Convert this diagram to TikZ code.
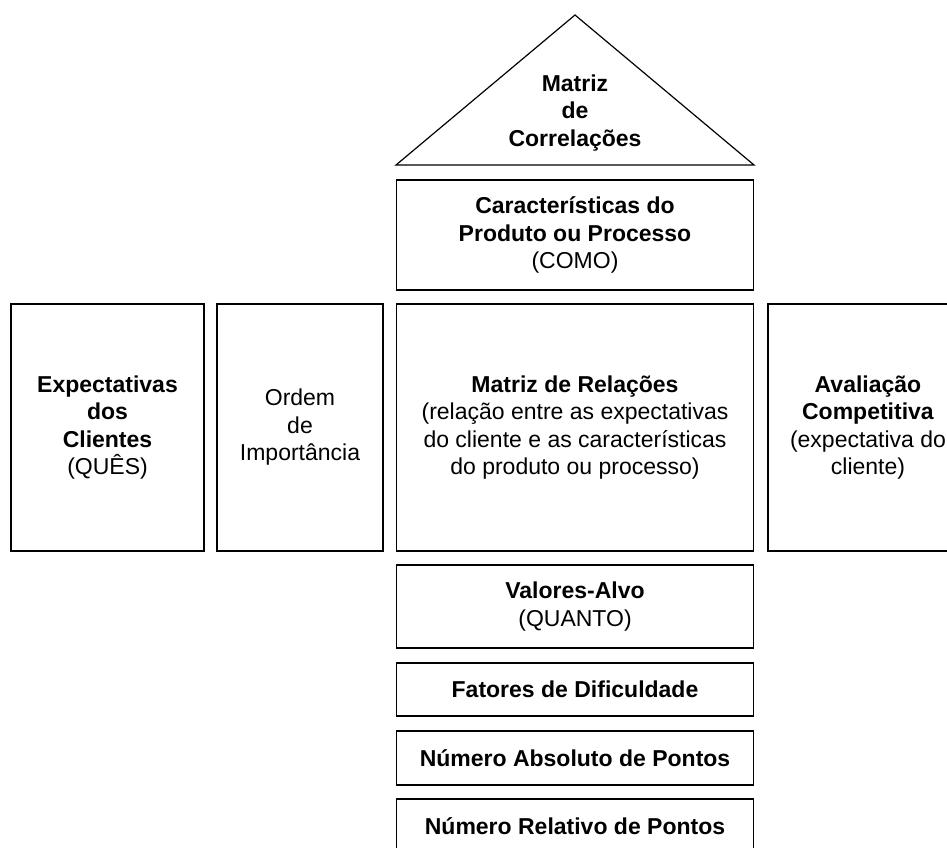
\documentclass[tikz,border=0pt]{standalone}
\usepackage{fontspec}
\setmainfont{Liberation Sans}
\begin{document}
\begin{tikzpicture}[x=1pt, y=-1pt, every node/.style={font=\fontsize{23}{27.5}\selectfont, align=center}]
\tikzstyle{box} = [rectangle, minimum width=357pt, inner sep=0pt, draw=black, line width=1.2pt]
\tikzstyle{tall} = [rectangle, minimum height=247pt, inner sep=0pt, draw=black, line width=1.2pt]

\useasboundingbox (0,0) rectangle (947,848);

% roof
\coordinate (ra) at (575,15);
\coordinate (rl) at (396,165);
\coordinate (rr) at (754,165);
\draw[line width=1.2pt, line join=miter] (rl) -- (ra) -- (rr) -- cycle;
\node (corr) at (575,113) {\textbf{Matriz}\\\textbf{de}\\\textbf{Correla\c{c}\~oes}};

\node (como) [box, minimum height=110pt] at (575,235) {\textbf{Caracter\'isticas do}\\\textbf{Produto ou Processo}\\(COMO)};

% middle row
\node (ques) [tall, minimum width=193pt] at (107.5,427.5) {\textbf{Expectativas}\\\textbf{dos}\\\textbf{Clientes}\\(QU\^ES)};
\node (ordem) [tall, minimum width=166pt] at (300,427.5) {Ordem\\de\\Import\^ancia};
\node (rel) [tall, minimum width=357pt] at (575,427.5) {\textbf{Matriz de Rela\c{c}\~oes}\\(rela\c{c}\~ao entre as expectativas\\do cliente e as caracter\'isticas\\do produto ou processo)};
\node (aval) [tall, minimum width=200pt] at (868,427.5) {\textbf{Avalia\c{c}\~ao}\\\textbf{Competitiva}\\(expectativa do\\cliente)};

% lower boxes
\node (quanto) [box, minimum height=83pt] at (575,606.5) {\textbf{Valores-Alvo}\\(QUANTO)};
\node (dific) [box, minimum height=53pt] at (575,689.5) {\textbf{Fatores de Dificuldade}};
\node (absol) [box, minimum height=54pt] at (575,758) {\textbf{N\'umero Absoluto de Pontos}};
\node (relat) [box, minimum height=54pt] at (575,826) {\textbf{N\'umero Relativo de Pontos}};

\end{tikzpicture}
\end{document}
